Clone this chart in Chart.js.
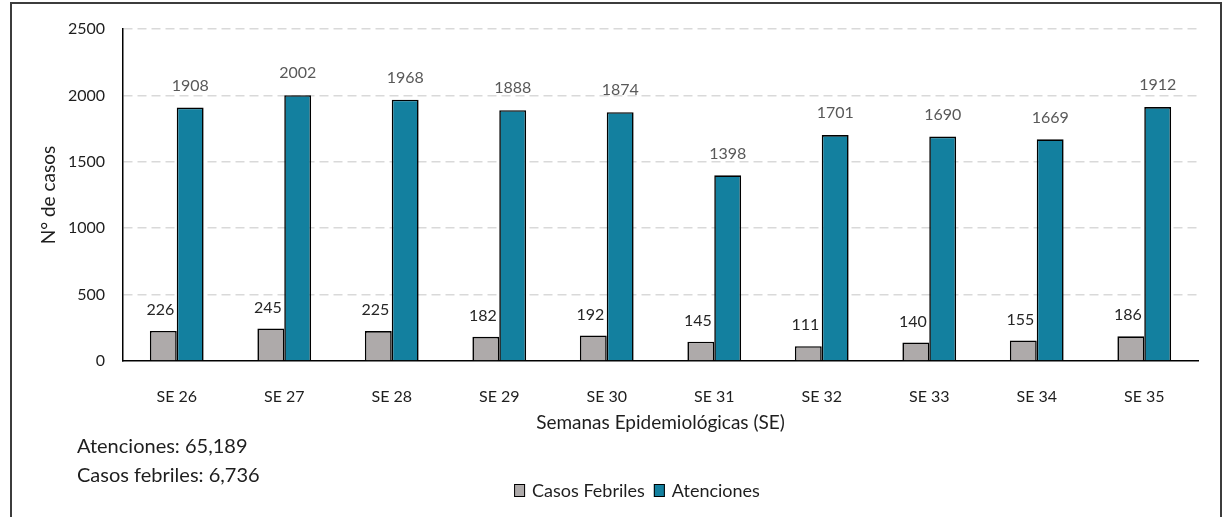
<!DOCTYPE html>
<html>
<head>
<meta charset="utf-8">
<script src="https://cdn.jsdelivr.net/npm/chart.js@4.4.1/dist/chart.umd.min.js"></script>
<style>
body { margin: 0; background: #fff; }
#frame { position: absolute; left: 10px; top: 2px; width: 1212px; height: 600px; border: 2px solid #3c3c3c; box-sizing: border-box; }
#wrap { position: absolute; left: 0; top: 0; width: 1224px; height: 517px; }
</style>
</head>
<body>
<div id="frame"></div>
<div id="wrap"><canvas id="myChart" width="1224" height="517"></canvas></div>
<script>
const semanas = ['SE 26', 'SE 27', 'SE 28', 'SE 29', 'SE 30', 'SE 31', 'SE 32', 'SE 33', 'SE 34', 'SE 35'];
const casosFebriles = [226, 245, 225, 182, 192, 145, 111, 140, 155, 186];
const atenciones = [1908, 2002, 1968, 1888, 1874, 1398, 1701, 1690, 1669, 1912];
const yTicks = [0, 500, 1000, 1500, 2000, 2500];
const resumen = ['Atenciones: 65,189', 'Casos febriles: 6,736'];

const FONT = 'Lato';

// value labels above each bar
const valueLabels = {
    id: 'valueLabels',
    afterDatasetsDraw(chart) {
        const ctx = chart.ctx;
        chart.data.datasets.forEach((ds, i) => {
            const meta = chart.getDatasetMeta(i);
            ctx.save();
            ctx.font = '16px ' + FONT;
            ctx.fillStyle = ds.labelColor;
            ctx.textAlign = 'center';
            ctx.textBaseline = 'middle';
            meta.data.forEach((bar, j) => {
                ctx.fillText(ds.data[j], bar.x + ds.labelShift, bar.y - ds.labelGap);
            });
            ctx.restore();
        });
    }
};

// legend + totals text under the axis
const bottomNotes = {
    id: 'bottomNotes',
    afterDraw(chart) {
        const ctx = chart.ctx;
        ctx.save();
        ctx.textBaseline = 'middle';
        ctx.fillStyle = '#1e1e1e';
        ctx.font = '20px ' + FONT;
        resumen.forEach((t, i) => ctx.fillText(t, 77, 447 + i * 29));

        ctx.font = '18px ' + FONT;
        const items = chart.data.datasets.map(ds => ({ text: ds.label, color: ds.backgroundColor, w: ctx.measureText(ds.label).width }));
        const box = 11, gap = 7, spacing = 9;
        let total = 0;
        items.forEach((it, i) => { total += box + gap + it.w + (i ? spacing : 0); });
        let x = 637 - total / 2;
        const y = 491;
        items.forEach(it => {
            ctx.fillStyle = it.color;
            ctx.fillRect(x, y - 7, box, 13);
            ctx.strokeStyle = '#000';
            ctx.lineWidth = 1;
            ctx.strokeRect(x + 0.5, y - 6.5, box - 1, 12);
            ctx.fillStyle = '#1e1e1e';
            ctx.fillText(it.text, x + box + gap, y);
            x += box + gap + it.w + spacing;
        });
        ctx.restore();
    }
};

const ctx = document.getElementById('myChart').getContext('2d');
new Chart(ctx, {
    type: 'bar',
    data: {
        labels: semanas,
        datasets: [{
            label: 'Casos Febriles',
            data: casosFebriles,
            backgroundColor: '#AEAAAA',
            borderColor: '#000',
            borderWidth: 1.6,
            labelColor: '#262626',
            labelGap: 21,
            labelShift: -3
        }, {
            label: 'Atenciones',
            data: atenciones,
            backgroundColor: '#13809F',
            borderColor: '#000',
            borderWidth: 1.6,
            labelColor: '#595959',
            labelGap: 22,
            labelShift: 0
        }]
    },
    options: {
        responsive: false,
        animation: false,
        layout: { padding: { top: 29, right: 26, left: 0, bottom: 0 } },
        categoryPercentage: 0.5,
        barPercentage: 1.0,
        plugins: {
            legend: { display: false },
            tooltip: { enabled: false }
        },
        scales: {
            x: {
                afterFit: s => { s.height = 156; },
                grid: { display: false },
                border: { display: true, color: '#000', width: 1.5 },
                ticks: { padding: 18, color: '#1e1e1e', font: { family: FONT, size: 16 } },
                title: {
                    display: true,
                    text: 'Semanas Epidemiológicas (SE)',
                    color: '#1e1e1e',
                    font: { family: FONT, size: 19 },
                    padding: { top: 0, bottom: 83 }
                }
            },
            y: {
                min: 0,
                max: 2500,
                afterFit: s => { s.width = 123; },
                afterBuildTicks: s => { s.ticks = yTicks.map(v => ({ value: v })); },
                grid: {
                    drawTicks: false,
                    color: c => c.tick && c.tick.value === 0 ? 'rgba(0,0,0,0)' : '#d9d9d9',
                    lineWidth: 1.5
                },
                border: { display: true, color: '#000', width: 1.5, dash: [9, 5] },
                ticks: {
                    padding: 18,
                    color: '#1e1e1e',
                    font: { family: FONT, size: 16 },
                    callback: v => String(v)
                },
                title: {
                    display: true,
                    text: 'N° de casos',
                    color: '#1e1e1e',
                    font: { family: FONT, size: 19 },
                    padding: { top: 37 }
                }
            }
        }
    },
    plugins: [valueLabels, bottomNotes]
});
</script>
</body>
</html>
